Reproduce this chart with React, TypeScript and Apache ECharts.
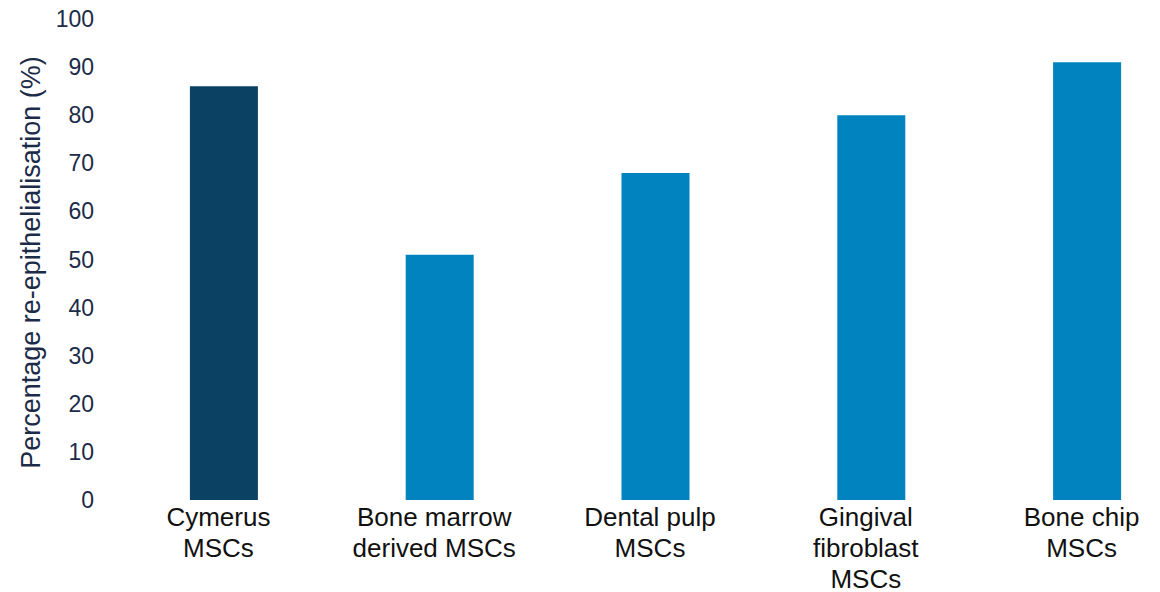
import React, { useEffect, useRef } from "react";
import * as echarts from "echarts";

const categories = [
  "Cymerus\nMSCs",
  "Bone marrow\nderived MSCs",
  "Dental pulp\nMSCs",
  "Gingival\nfibroblast\nMSCs",
  "Bone chip\nMSCs",
];
const values = [86, 51, 68, 80, 91];
const barColors = ["#0B4163", "#0083BE", "#0083BE", "#0083BE", "#0083BE"];
const yTicks = { min: 0, max: 100, interval: 10 };

export default function App() {
  const ref = useRef<HTMLDivElement>(null);
  useEffect(() => {
    if (!ref.current) return;
    const chart = echarts.init(ref.current, null, { renderer: "svg" });
    chart.setOption({
      animation: false,
      backgroundColor: "#ffffff",
      grid: {
        left: 116,
        top: 19,
        width: 1079,
        height: 481,
        containLabel: false,
        outerBoundsMode: "none",
      },
      xAxis: {
        type: "category",
        data: categories,
        axisLine: { show: false },
        axisTick: { show: false },
        axisLabel: {
          interval: 0,
          color: "#111111",
          fontFamily: "Liberation Sans, Arial, sans-serif",
          fontSize: 26,
          lineHeight: 31,
          margin: 1,
          padding: [0, 11, 0, 0],
        },
      },
      yAxis: {
        type: "value",
        min: yTicks.min,
        max: yTicks.max,
        interval: yTicks.interval,
        splitLine: { show: false },
        axisLine: { show: false },
        axisTick: { show: false },
        axisLabel: {
          color: "#1C2B48",
          fontFamily: "Liberation Sans, Arial, sans-serif",
          fontSize: 23,
          margin: 22,
        },
        name: "Percentage re-epithelialisation (%)",
        nameLocation: "middle",
        nameGap: 67,
        nameTextStyle: {
          color: "#1C2B48",
          fontFamily: "Liberation Sans, Arial, sans-serif",
          fontSize: 27,
          padding: [0, 6, 0, 0],
        },
      },
      series: [
        {
          type: "bar",
          data: values.map((v, i) => ({ value: v, itemStyle: { color: barColors[i] } })),
          barWidth: 68,
        },
      ],
    });
    return () => chart.dispose();
  }, []);
  return <div ref={ref} style={{ width: 1160, height: 592, position: "absolute", left: 0, top: 0 }} />;
}
